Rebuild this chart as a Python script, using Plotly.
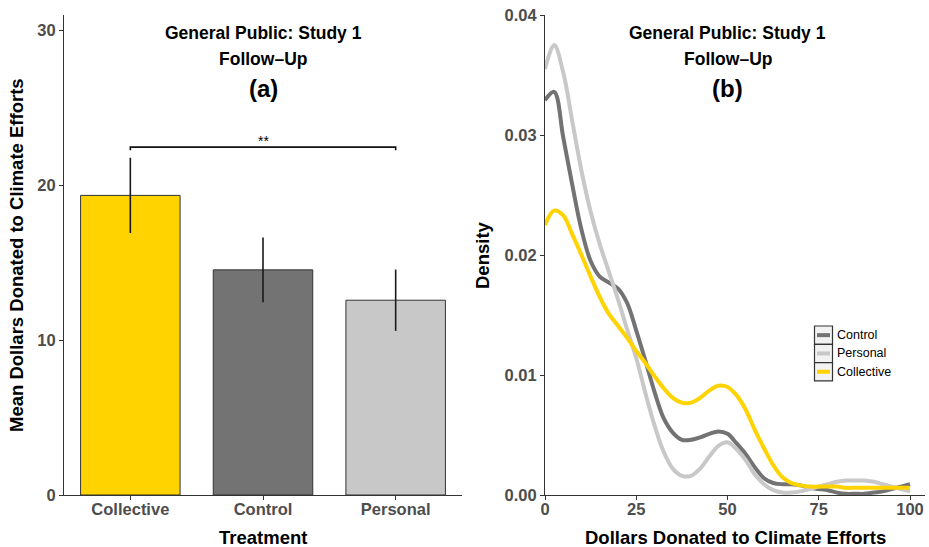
import plotly.graph_objects as go

# ---------------- data ----------------
treatments = ["Collective", "Control", "Personal"]
mean_donation = [19.35, 14.54, 12.58]
se_donation = [2.43, 2.09, 1.98]
bar_colors = ["#FFD300", "#737373", "#C8C8C8"]

# significance bracket between Collective and Personal
bracket_level = 22.47
bracket_drop = 0.21
bracket_label = "**"

# kernel density of individual donations, read on a $2.5 grid
dollars = [0, 2.5, 5, 7.5, 10, 12.5, 15, 17.5, 20, 22.5,
           25, 27.5, 30, 32.5, 35, 37.5, 40, 42.5, 45, 47.5,
           50, 52.5, 55, 57.5, 60, 62.5, 65, 67.5, 70, 72.5,
           75, 77.5, 80, 82.5, 85, 87.5, 90, 92.5, 95, 97.5, 100]

density_control = [0.0329, 0.0336, 0.0298, 0.0258, 0.0221, 0.0195, 0.0182, 0.0177, 0.0172, 0.0160,
                   0.0137, 0.0112, 0.0086, 0.0064, 0.0052, 0.0046, 0.0046, 0.0048, 0.0051, 0.0053,
                   0.0051, 0.0043, 0.0034, 0.0023, 0.0014, 0.0010, 0.0009, 0.0009, 0.0008, 0.0006,
                   0.0005, 0.0004, 0.0002, 0.0001, 0.0001, 0.0001, 0.0002, 0.0003, 0.0005, 0.0007, 0.0009]

density_personal = [0.0355, 0.0375, 0.0352, 0.0311, 0.0270, 0.0236, 0.0209, 0.0186, 0.0163, 0.0138,
                    0.0114, 0.0085, 0.0058, 0.0036, 0.0022, 0.0016, 0.0016, 0.0022, 0.0032, 0.0041,
                    0.0044, 0.0038, 0.0029, 0.0017, 0.0009, 0.0004, 0.0002, 0.0002, 0.0003, 0.0005,
                    0.0007, 0.0009, 0.0011, 0.0012, 0.0012, 0.0012, 0.0011, 0.0009, 0.0007, 0.0005, 0.0003]

density_collective = [0.0225, 0.0237, 0.0233, 0.0217, 0.0200, 0.0182, 0.0165, 0.0151, 0.0141, 0.0131,
                      0.0120, 0.0110, 0.0099, 0.0089, 0.0081, 0.0077, 0.0077, 0.0081, 0.0087, 0.0091,
                      0.0090, 0.0083, 0.0071, 0.0054, 0.0039, 0.0025, 0.0015, 0.0010, 0.0008, 0.0007,
                      0.0007, 0.0007, 0.0007, 0.0006, 0.0006, 0.0006, 0.0006, 0.0006, 0.0006, 0.0006, 0.0006]

density_series = [
    ("Control", density_control, "#737373"),
    ("Personal", density_personal, "#C8C8C8"),
    ("Collective", density_collective, "#FFD300"),
]

# ---------------- layout helpers ----------------
W, H = 929, 547
FONT = "Liberation Sans, Arial, Helvetica, sans-serif"
AXIS_COL = "#333333"
TICK_COL = "#4D4D4D"


def fx(p):
    return p / W


def fy(p):
    return 1 - p / H


plot_bottom, plot_top = 495, 15
ydom = [fy(plot_bottom), fy(plot_top)]

fig = go.Figure()

# ---------------- panel (a): bars ----------------
fig.add_trace(go.Bar(
    x=treatments, y=mean_donation,
    marker=dict(color=bar_colors, line=dict(color=AXIS_COL, width=1)),
    error_y=dict(type="data", array=se_donation, thickness=1.6, width=0, color="#1A1A1A"),
    xaxis="x", yaxis="y", hoverinfo="skip",
))

fig.add_trace(go.Scatter(
    x=[treatments[0], treatments[0], treatments[2], treatments[2]],
    y=[bracket_level - bracket_drop, bracket_level, bracket_level, bracket_level - bracket_drop],
    mode="lines", line=dict(color="#111111", width=1.6),
    xaxis="x", yaxis="y", hoverinfo="skip",
))

# ---------------- panel (b): density curves ----------------
for name, dens, col in density_series:
    fig.add_trace(go.Scatter(
        x=dollars, y=dens, name=name, mode="lines",
        line=dict(color=col, width=4, shape="spline", smoothing=1.0),
        xaxis="x2", yaxis="y2", hoverinfo="skip",
    ))

axis_common = dict(
    showline=True, linecolor=AXIS_COL, linewidth=1.2,
    ticks="outside", ticklen=4, tickwidth=1, tickcolor=AXIS_COL,
    showgrid=False, zeroline=False, automargin=False,
    tickfont=dict(family=FONT, size=16.5, color=TICK_COL, weight="bold"),
)

fig.update_layout(
    width=W, height=H,
    margin=dict(l=0, r=0, t=0, b=0, pad=0),
    paper_bgcolor="white", plot_bgcolor="white",
    showlegend=False, bargap=0.25,
    xaxis=dict(domain=[fx(64), fx(462)], type="category", range=[-0.5, 2.5],
               anchor="y", ticklabelstandoff=-5, **axis_common),
    yaxis=dict(domain=ydom, range=[0, 31], tickvals=[0, 10, 20, 30],
               anchor="x", **axis_common),
    xaxis2=dict(domain=[fx(545), fx(925)], range=[0, 104.1],
                tickvals=[0, 25, 50, 75, 100], anchor="y2", ticklabelstandoff=-5,
                **axis_common),
    yaxis2=dict(domain=ydom, range=[0, 0.04], tickvals=[0, 0.01, 0.02, 0.03, 0.04],
                tickformat=".2f", anchor="x2", **axis_common),
)

annotations = []


def text(x, y, s, size, xref="paper", yref="paper", bold=True, color="black",
         angle=0, xanchor="center", yanchor="middle", yshift=0):
    annotations.append(dict(
        x=x, y=y, xref=xref, yref=yref, text=s, showarrow=False,
        font=dict(family=FONT, size=size, color=color, weight="bold" if bold else "normal"),
        textangle=angle, xanchor=xanchor, yanchor=yanchor, yshift=yshift,
    ))


# panel titles
for xref, xc, tag in (("x", 1, "(a)"), ("x2", 50, "(b)")):
    text(xc, fy(33), "General Public: Study 1", 17.5, xref=xref)
    text(xc, fy(59), "Follow\u2013Up", 17.5, xref=xref)
    text(xc, fy(88), tag, 24, xref=xref)

# significance marker
text(1, bracket_level, bracket_label, 14, xref="x", yref="y", bold=False,
     yanchor="bottom", yshift=-4)

# axis titles
text(fx(263), fy(537), "Treatment", 18.5)
text(fx(16), fy(255), "Mean Dollars Donated to Climate Efforts", 18.5, angle=-90)
text(fx(482), fy(255), "Density", 18.5, angle=-90)
text(fx(735), fy(537), "Dollars Donated to Climate Efforts", 18.5)

# legend drawn as keyed boxes
shapes = []
key_x0, key_x1, key_top, key_h = 814.5, 832.5, 326, 18.3
for i, (name, dens, col) in enumerate(density_series):
    top = key_top + i * key_h
    shapes.append(dict(type="rect", xref="paper", yref="paper",
                       x0=fx(key_x0), x1=fx(key_x1), y0=fy(top + key_h), y1=fy(top),
                       fillcolor="#F2F2F2", line=dict(color=AXIS_COL, width=1.2), layer="above"))
    shapes.append(dict(type="line", xref="paper", yref="paper",
                       x0=fx(key_x0 + 2.5), x1=fx(key_x1 - 2.5),
                       y0=fy(top + key_h / 2), y1=fy(top + key_h / 2),
                       line=dict(color=col, width=4), layer="above"))
    text(fx(key_x1 + 2), fy(top + key_h / 2), name, 12.5, bold=False, xanchor="left")

fig.update_layout(annotations=annotations, shapes=shapes)

fig.write_html("out.html")
